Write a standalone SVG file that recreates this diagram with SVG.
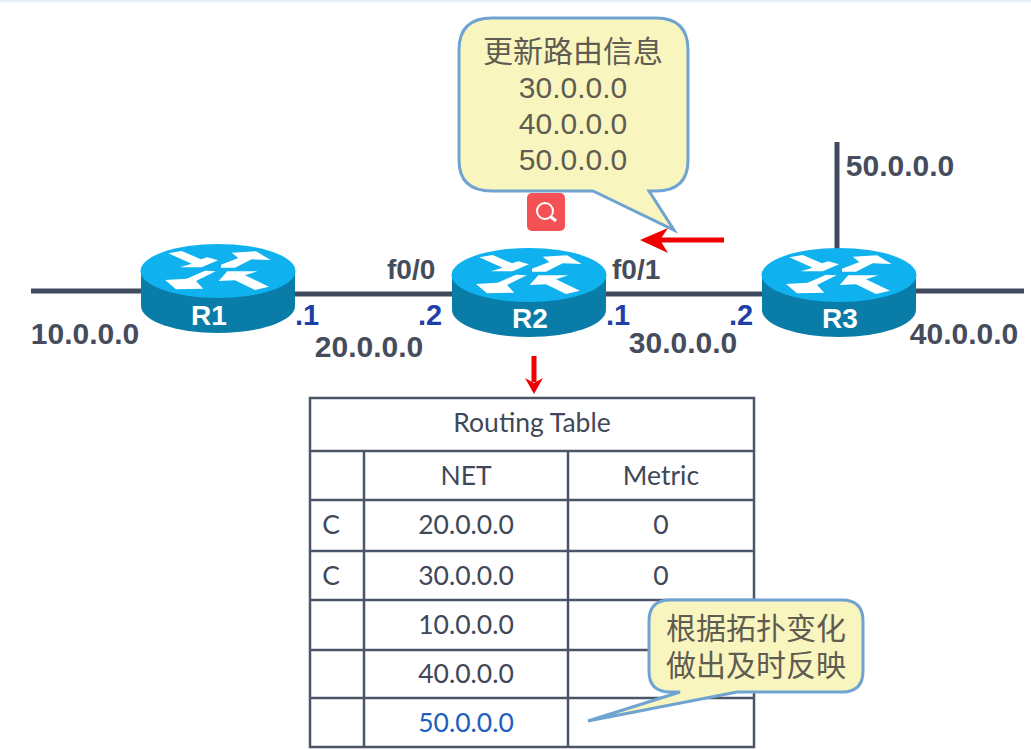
<svg xmlns="http://www.w3.org/2000/svg" width="1031" height="750" viewBox="0 0 1031 750">
<style>
.net{stroke:#3f4a5f;stroke-width:5;fill:none}
.lbl{font-family:"Liberation Sans",Arial,sans-serif;font-weight:700;font-size:30px;fill:#454c5b}
.ip{text-anchor:middle}
.blue{font-family:"Liberation Sans",Arial,sans-serif;font-weight:700;font-size:29px;fill:#1f3fa8}
.rn{font-family:"Liberation Sans",Arial,sans-serif;font-weight:700;font-size:28px;fill:#fff;text-anchor:middle}
.grid{stroke:#4b5568;stroke-width:2.5;fill:none}
.tt{font-family:Lato,"Open Sans",sans-serif;font-size:26.500px;fill:#3f4858;text-anchor:middle}
.bub{fill:#f9f5bf;stroke:#6fa3d2;stroke-width:3}
.bt{font-family:"Liberation Sans","Noto Sans CJK SC",sans-serif;font-size:30px;fill:#5f5c52;text-anchor:middle}
.red{stroke:#f00000;stroke-width:5;fill:none}
</style>
<defs>
<g id="router">
<path d="M-77 0V35C-77 50 -42 62 0 62S77 50 77 35V0Z" fill="#0a7ca8"/>
<ellipse cx="0" cy="0" rx="77.500" ry="27" fill="#0fb2ee"/>
<g transform="scale(.3333) translate(-294,-125)" fill="#fff">
<polygon points="145,72 185,65 243,90 262,84 294,93 245,114 180,114 215,103"/>
<polygon points="303,106 355,86 335,70 408,66 452,92 395,90 345,115 303,115"/>
<polygon points="135,152 200,148 255,124 287,126 228,155 250,178 168,180"/>
<polygon points="296,155 322,126 412,126 375,138 447,172 405,182 345,153"/>
</g>
</g>
</defs>
<rect x="0" y="0" width="1031" height="2" fill="#e6f0f8"/>
<g id="connectors">
<path class="net" d="M31 291H145"/>
<path class="net" d="M290 294H456"/>
<path class="net" d="M603 294H766"/>
<path class="net" d="M912 291H1024"/>
<path class="net" d="M837 142V255"/>
</g>
<g id="R1"><use href="#router" x="218" y="271"/><text class="rn" x="209" y="325">R1</text></g>
<g id="R2"><use href="#router" x="529" y="275"/><text class="rn" x="530" y="328">R2</text></g>
<g id="R3"><use href="#router" x="839" y="275"/><text class="rn" x="840" y="328">R3</text></g>
<g id="labels">
<text class="lbl ip" x="85" y="344">10.0.0.0</text>
<text class="lbl ip" x="369" y="357">20.0.0.0</text>
<text class="lbl ip" x="683" y="353">30.0.0.0</text>
<text class="lbl ip" x="964" y="344">40.0.0.0</text>
<text class="lbl ip" x="900" y="176">50.0.0.0</text>
<text class="lbl" x="387" y="279" style="font-size:28px">f0/0</text>
<text class="lbl" x="612" y="279" style="font-size:28px">f0/1</text>
<text class="blue" x="295" y="325">.1</text>
<text class="blue" x="418" y="325">.2</text>
<text class="blue" x="606" y="325">.1</text>
<text class="blue" x="729" y="325">.2</text>
</g>
<g id="arrows">
<path class="red" d="M724 240H655"/><polygon points="640,240 668,228 660,240 668,253" fill="#f00000"/>
<path class="red" d="M534 356V382"/><polygon points="534,394 525,378 534,383 543,378" fill="#f00000"/>
</g>
<g id="routing-table">
<rect class="grid" x="310" y="398" width="444" height="349"/>
<path class="grid" d="M310 451H754M310 500H754M310 551H754M310 600H754M310 650H754M310 698H754M364 451V747M568 451V747"/>
<text class="tt" x="532" y="432">Routing Table</text>
<text class="tt" x="466" y="485">NET</text>
<text class="tt" x="661" y="485">Metric</text>
<text class="tt" x="331" y="534">C</text>
<text class="tt" x="466" y="534">20.0.0.0</text>
<text class="tt" x="661" y="534">0</text>
<text class="tt" x="331" y="585">C</text>
<text class="tt" x="466" y="585">30.0.0.0</text>
<text class="tt" x="661" y="585">0</text>
<text class="tt" x="466" y="634">10.0.0.0</text>
<text class="tt" x="466" y="683">40.0.0.0</text>
<text class="tt" x="466" y="732" style="fill:#1f5fc0">50.0.0.0</text>
</g>
<g id="bubble-update">
<path class="bub" d="M492 18H656Q688 18 688 50V160Q688 191 656 191H649L674 230L593 191H492Q459 191 459 160V50Q459 18 492 18Z"/>
<text class="bt" x="573" y="62">更新路由信息</text>
<text class="bt" x="573" y="98">30.0.0.0</text>
<text class="bt" x="573" y="134">40.0.0.0</text>
<text class="bt" x="573" y="170">50.0.0.0</text>
</g>
<g id="search-button">
<rect x="527" y="193" width="38" height="38" rx="5" fill="#f45155"/>
<circle cx="545" cy="211" r="8" fill="none" stroke="#fff" stroke-width="2"/>
<path d="M551 217L556 221" stroke="#fff" stroke-width="3" fill="none"/>
</g>
<g id="bubble-note">
<path class="bub" d="M670 600H842Q863 600 863 621V671Q863 692 842 692H737L588 721L680 692H670Q649 692 649 671V621Q649 600 670 600Z"/>
<text class="bt" x="756" y="639">根据拓扑变化</text>
<text class="bt" x="756" y="676">做出及时反映</text>
</g>
</svg>
